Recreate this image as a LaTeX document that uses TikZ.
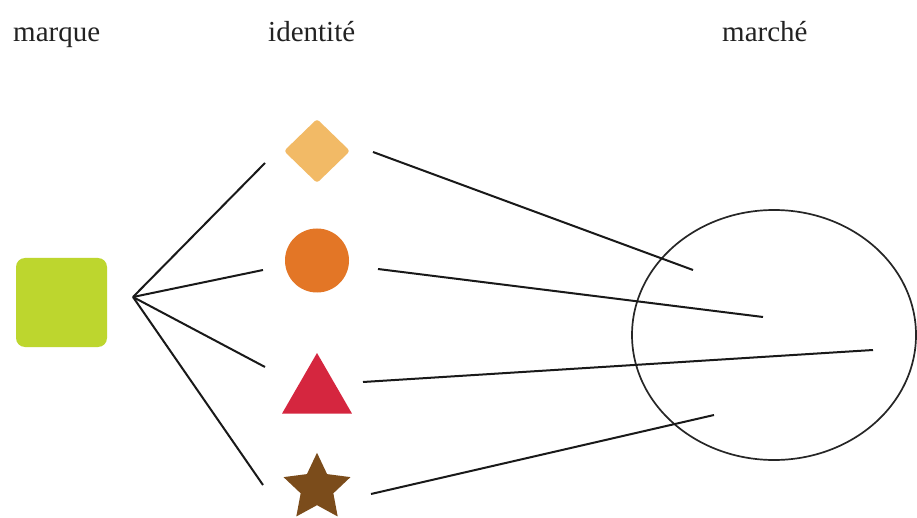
\documentclass[tikz,border=0pt]{standalone}
\usepackage{fontspec}
\setmainfont{Liberation Serif}
\usetikzlibrary{shapes.geometric}
\definecolor{cgreen}{HTML}{BDD62E}
\definecolor{cdiam}{HTML}{F2BA66}
\definecolor{ccirc}{HTML}{E37626}
\definecolor{ctri}{HTML}{D5263F}
\definecolor{cstar}{HTML}{7B4C1B}
\definecolor{ctext}{HTML}{222222}
\begin{document}
\begin{tikzpicture}[x=1pt,y=-1pt,
  lbl/.style={anchor=base west,inner sep=0,text=ctext,font=\fontsize{29}{32}\selectfont},
  link/.style={draw=black!90,line width=2pt},
  shp/.style={inner sep=0,outer sep=0,draw=none}]
\useasboundingbox (0,0) rectangle (917,518);
\fill[white] (0,0) rectangle (917,518);
% titles
\node[lbl] (t1) at (13,42) {marque};
\node[lbl] (t2) at (268,42) {identité};
\node[lbl] (t3) at (722,42) {marché};
% shapes
\node[shp,fill=cgreen,rounded corners=9pt,minimum width=91pt,minimum height=89pt] (brand) at (61.5,302.5) {};
\node[shp,diamond,fill=cdiam,rounded corners=3pt,minimum width=66pt,minimum height=64pt] (diam) at (317,151) {};
\node[shp,circle,fill=ccirc,minimum size=64pt] (circ) at (317,260.5) {};
\node[shp,regular polygon,regular polygon sides=3,fill=ctri,minimum size=80.8pt] (tri) at (317,393.4) {};
\node[shp,star,star points=5,star point ratio=2.05,fill=cstar,minimum size=70.4pt] (star) at (317,488) {};
% market
\node[shp,ellipse,draw=black!85,line width=1.7pt,minimum width=284pt,minimum height=250pt] (market) at (774,335) {};
% connector points
\coordinate (hub) at (133,297);
\coordinate (a1) at (265,163);
\coordinate (a2) at (263,270);
\coordinate (a3) at (265,367);
\coordinate (a4) at (263,485);
\coordinate (b1) at (373,152);
\coordinate (b2) at (378,269);
\coordinate (b3) at (363,382);
\coordinate (b4) at (371,494);
\coordinate (m1) at (693,270);
\coordinate (m2) at (763,317);
\coordinate (m3) at (873,350);
\coordinate (m4) at (714,415);
\draw[link] (hub) -- (a1);
\draw[link] (hub) -- (a2);
\draw[link] (hub) -- (a3);
\draw[link] (hub) -- (a4);
\draw[link] (b1) -- (m1);
\draw[link] (b2) -- (m2);
\draw[link] (b3) -- (m3);
\draw[link] (b4) -- (m4);
\end{tikzpicture}
\end{document}
